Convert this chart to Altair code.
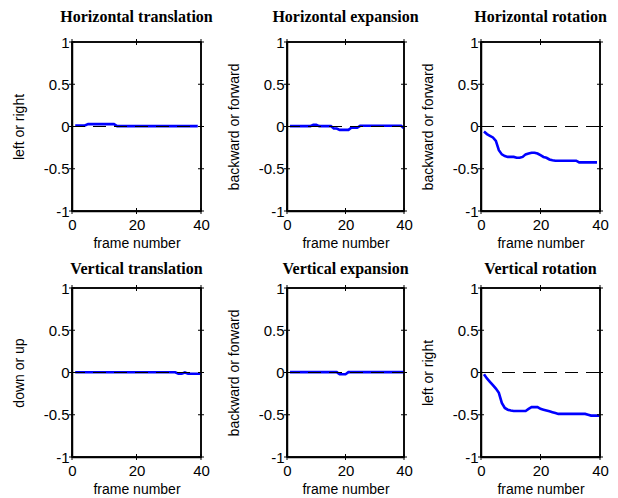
import altair as alt
import pandas as pd

frames = list(range(1, 41))

h_translation = [0.012, 0.012, 0.012, 0.012, 0.028, 0.028, 0.028, 0.028, 0.028, 0.028,
                 0.028, 0.028, 0.028, 0.004, 0.004, 0.004, 0.004, 0.004, 0.004, 0.004,
                 0.004, 0.004, 0.004, 0.004, 0.004, 0.004, 0.004, 0.004, 0.004, 0.004,
                 0.004, 0.004, 0.004, 0.004, 0.004, 0.004, 0.004, 0.004, 0.004]
h_expansion = [0.005, 0.005, 0.005, 0.005, 0.005, 0.005, 0.005, 0.005, 0.02, 0.02,
               0.005, 0.005, 0.005, 0.005, 0.005, -0.024, -0.024, -0.04, -0.04, -0.04,
               -0.04, -0.015, -0.015, -0.015, 0.008, 0.008, 0.008, 0.008, 0.008, 0.008,
               0.008, 0.008, 0.008, 0.008, 0.008, 0.008, 0.008, 0.008, 0.008, -0.02]
h_rotation = [-0.06, -0.09, -0.11, -0.13, -0.17, -0.28, -0.33, -0.35, -0.36, -0.36,
              -0.36, -0.37, -0.37, -0.36, -0.33, -0.32, -0.31, -0.31, -0.32, -0.34,
              -0.36, -0.37, -0.39, -0.40, -0.405, -0.405, -0.405, -0.405, -0.405, -0.405,
              -0.405, -0.405, -0.425, -0.425, -0.425, -0.425, -0.425, -0.425, -0.425]
v_translation = [0.003, 0.003, 0.003, 0.003, 0.003, 0.003, 0.003, 0.003, 0.003, 0.003,
                 0.003, 0.003, 0.003, 0.003, 0.003, 0.003, 0.003, 0.003, 0.003, 0.003,
                 0.003, 0.003, 0.003, 0.003, 0.003, 0.003, 0.003, 0.003, 0.003, 0.003,
                 0.003, 0.003, -0.015, -0.015, 0.0, -0.015, -0.015, -0.015, -0.015, -0.015]
v_expansion = [0.005, 0.005, 0.005, 0.005, 0.005, 0.005, 0.005, 0.005, 0.005, 0.005,
               0.005, 0.005, 0.005, 0.005, 0.005, 0.005, 0.005, -0.02, -0.02, -0.02,
               0.005, 0.005, 0.005, 0.005, 0.005, 0.005, 0.005, 0.005, 0.005, 0.005,
               0.005, 0.005, 0.005, 0.005, 0.005, 0.005, 0.005, 0.005, 0.005, 0.005]
v_rotation = [-0.02, -0.07, -0.11, -0.15, -0.19, -0.24, -0.36, -0.42, -0.44, -0.45,
              -0.455, -0.455, -0.455, -0.455, -0.455, -0.43, -0.41, -0.41, -0.41, -0.43,
              -0.44, -0.45, -0.46, -0.47, -0.48, -0.49, -0.49, -0.49, -0.49, -0.49,
              -0.49, -0.49, -0.49, -0.49, -0.49, -0.50, -0.51, -0.51, -0.51, -0.51]

titles = ["Horizontal translation", "Horizontal expansion", "Horizontal rotation",
          "Vertical translation", "Vertical expansion", "Vertical rotation"]
y_titles = ["left or right", "backward or forward", "backward or forward",
            "down or up", "backward or forward", "left or right"]
series = [h_translation, h_expansion, h_rotation, v_translation, v_expansion, v_rotation]
x_domain = [0, 40]
y_domain = [-1, 1]
x_ticks = [0, 20, 40]
y_ticks = [-1, -0.5, 0, 0.5, 1]
x_title = "frame number"

widths = [129, 117, 119]
H = 169


def panel(i):
    w = widths[i % 3]
    title_offset = 10 if i < 3 else 4
    vals = series[i]
    df = pd.DataFrame({"frame": frames[:len(vals)], "value": vals})
    xs = alt.Scale(domain=x_domain, nice=False, zero=False)
    ys = alt.Scale(domain=y_domain, nice=False, zero=False)
    line = alt.Chart(df).mark_line(color="#0000ff", strokeWidth=2.6).encode(
        x=alt.X("frame:Q", scale=xs,
                axis=alt.Axis(values=x_ticks, title=x_title, labelPadding=6,
                              labelFlush=False, titlePadding=4)),
        y=alt.Y("value:Q", scale=ys,
                axis=alt.Axis(values=y_ticks, title=y_titles[i], labelPadding=3,
                              labelFlush=False,
                              labelExpr="toString(datum.value)",
                              titleX=-49, titleBaseline="alphabetic")),
    )
    zero = alt.Chart(pd.DataFrame({"value": [0]})).mark_rule(
        color="black", strokeWidth=1.1, strokeDash=[13, 8]
    ).encode(y=alt.Y("value:Q", scale=ys), x=alt.value(0), x2=alt.value(w))

    x_mid = (x_domain[0] + x_domain[1]) / 2
    y_mid = (y_domain[0] + y_domain[1]) / 2
    edges = [
        (pd.DataFrame({"frame": [x_mid], "value": [y_domain[1]]}), "horizontal", w),
        (pd.DataFrame({"frame": [x_mid], "value": [y_domain[0]]}), "horizontal", w),
        (pd.DataFrame({"frame": [x_domain[0]], "value": [y_mid]}), "vertical", H),
        (pd.DataFrame({"frame": [x_domain[1]], "value": [y_mid]}), "vertical", H),
    ]
    edge_layers = [
        alt.Chart(d).mark_tick(color="black", orient=o, size=s, thickness=1.5,
                               opacity=1).encode(
            x=alt.X("frame:Q", scale=xs), y=alt.Y("value:Q", scale=ys))
        for d, o, s in edges
    ]

    xt_bottom = pd.DataFrame({"frame": x_ticks, "value": [y_domain[0]] * len(x_ticks)})
    xt_top = pd.DataFrame({"frame": x_ticks, "value": [y_domain[1]] * len(x_ticks)})
    yt_left = pd.DataFrame({"value": y_ticks, "frame": [x_domain[0]] * len(y_ticks)})
    yt_right = pd.DataFrame({"value": y_ticks, "frame": [x_domain[1]] * len(y_ticks)})
    tick_layers = [
        alt.Chart(d).mark_tick(color="black", orient=o, size=6, thickness=1,
                               opacity=1).encode(
            x=alt.X("frame:Q", scale=xs), y=alt.Y("value:Q", scale=ys))
        for d, o in [(xt_bottom, "vertical"), (xt_top, "vertical"),
                     (yt_left, "horizontal"), (yt_right, "horizontal")]
    ]
    return alt.layer(line, zero, *edge_layers, *tick_layers).properties(
        width=w, height=H,
        title=alt.TitleParams(titles[i], anchor="middle", offset=title_offset,
                              font="Liberation Serif", fontSize=16, fontWeight="bold",
                              color="black"),
    )


cols = [alt.vconcat(panel(c), panel(c + 3), spacing=9) for c in range(3)]
inner = alt.hconcat(cols[0], cols[1], spacing=12)
chart = alt.hconcat(inner, cols[2], spacing=0).properties(
    padding={"left": 3, "top": 0, "right": 0, "bottom": 0},
    background="white",
).configure_view(
    stroke="black", strokeWidth=1.5
).configure_axis(
    domain=True, domainColor="black", domainWidth=1.5,
    ticks=False, tickSize=0, grid=False,
    labelFont="Liberation Sans", labelFontSize=15, labelColor="black",
    titleFont="Liberation Sans", titleFontSize=14, titleFontWeight="normal",
    titleColor="black",
)

chart.save("out.html", embed_options={"renderer": "svg", "actions": False})
